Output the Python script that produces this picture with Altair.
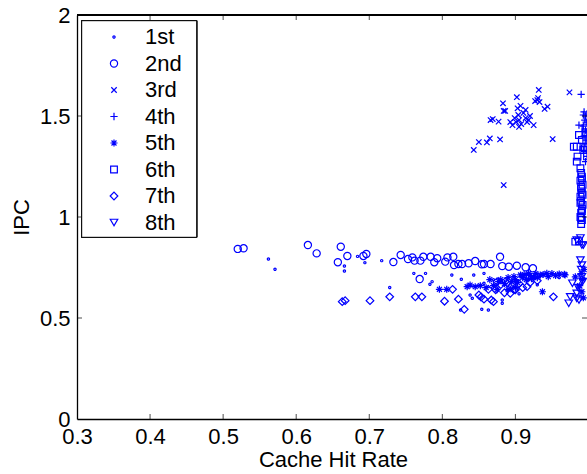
import altair as alt
import pandas as pd

# ---------------- data ----------------
series_names = ["1st", "2nd", "3rd", "4th", "5th", "6th", "7th", "8th"]

x1 = [0.562, 0.571, 0.666, 0.666, 0.684, 0.694, 0.717, 0.728, 0.761, 0.777, 0.783, 0.786,
      0.813, 0.826, 0.843, 0.857, 0.857, 0.838, 0.841, 0.854, 0.863, 0.882, 0.882, 0.825,
      0.870, 0.895, 0.905, 0.915, 0.930, 0.960, 0.985, 0.990]
y1 = [0.792, 0.741, 0.757, 0.733, 0.805, 0.774, 0.784, 0.651, 0.721, 0.721, 0.667, 0.680,
      0.713, 0.692, 0.713, 0.721, 0.672, 0.614, 0.598, 0.543, 0.540, 0.589, 0.573, 0.540,
      0.690, 0.655, 0.620, 0.690, 0.665, 0.700, 0.650, 0.700]

x2 = [0.520, 0.528, 0.616, 0.628, 0.661, 0.670, 0.657, 0.692, 0.696, 0.733, 0.743, 0.753,
      0.759, 0.762, 0.770, 0.774, 0.784, 0.789, 0.793, 0.804, 0.807, 0.815, 0.816, 0.822,
      0.827, 0.836, 0.845, 0.854, 0.857, 0.866, 0.879, 0.882, 0.891, 0.902, 0.914, 0.924,
      0.769]
y2 = [0.842, 0.845, 0.861, 0.820, 0.853, 0.807, 0.776, 0.807, 0.817, 0.777, 0.812, 0.792,
      0.800, 0.784, 0.784, 0.803, 0.803, 0.776, 0.796, 0.779, 0.800, 0.803, 0.762, 0.767,
      0.767, 0.771, 0.782, 0.766, 0.767, 0.767, 0.803, 0.757, 0.754, 0.759, 0.751, 0.746,
      0.693]

x3 = [0.843, 0.850, 0.861, 0.865, 0.879, 0.866, 0.869, 0.877, 0.883, 0.884, 0.886, 0.902,
      0.903, 0.907, 0.893, 0.896, 0.899, 0.901, 0.904, 0.905, 0.908, 0.911, 0.914, 0.914,
      0.916, 0.918, 0.920, 0.925, 0.905, 0.932, 0.927, 0.930, 0.933, 0.931, 0.940, 0.944,
      0.951, 0.974, 0.884]
y3 = [1.332, 1.371, 1.369, 1.389, 1.384, 1.480, 1.485, 1.472, 1.563, 1.525, 1.525, 1.593,
      1.538, 1.550, 1.470, 1.455, 1.490, 1.470, 1.505, 1.480, 1.460, 1.515, 1.530, 1.490,
      1.470, 1.480, 1.500, 1.455, 1.446, 1.629, 1.574, 1.579, 1.569, 1.589, 1.535, 1.546,
      1.386, 1.617, 1.158]

x4 = [0.990, 0.987, 0.994, 0.996, 0.995, 0.997, 0.993, 0.996, 0.998, 0.994, 0.997, 0.995,
      0.998, 0.996, 0.993, 0.997, 0.993]
y4 = [1.607, 1.455, 1.520, 1.500, 1.480, 1.470, 1.450, 1.430, 1.510, 1.400, 1.380, 1.350,
      1.300, 1.274, 1.330, 1.420, 1.505]

x5 = [0.796, 0.806, 0.834, 0.838, 0.845, 0.877, 0.907, 0.918, 0.925, 0.934, 0.943, 0.937,
      0.967, 0.982, 0.968, 0.880, 0.885, 0.890, 0.895, 0.900, 0.898, 0.903, 0.910, 0.912,
      0.915, 0.920, 0.922, 0.928, 0.930, 0.938, 0.945, 0.950, 0.955, 0.960, 0.870, 0.860,
      0.852, 0.865, 0.875, 0.890, 0.900, 0.990, 0.992, 0.988, 0.994, 0.991, 0.993]
y5 = [0.642, 0.642, 0.655, 0.663, 0.655, 0.680, 0.713, 0.721, 0.704, 0.713, 0.721, 0.630,
      0.716, 0.704, 0.713, 0.690, 0.670, 0.700, 0.680, 0.690, 0.705, 0.675, 0.700, 0.715,
      0.690, 0.710, 0.695, 0.720, 0.700, 0.715, 0.705, 0.720, 0.710, 0.718, 0.660, 0.650,
      0.660, 0.690, 0.640, 0.640, 0.650, 0.720, 0.690, 0.660, 0.740, 0.630, 0.600]

x6 = [0.987, 0.980, 0.984, 0.985, 0.984, 0.989, 0.991, 0.993, 0.990, 0.991, 0.989, 0.992,
      0.990, 0.991, 0.989, 0.990, 0.992, 0.991, 0.990, 0.989, 0.991, 0.990, 0.982, 0.987,
      0.996, 0.997, 0.995, 0.998, 0.996, 0.991, 0.990, 0.992, 0.989, 0.991, 0.990]
y6 = [1.406, 1.348, 1.348, 1.299, 1.274, 1.241, 1.381, 1.332, 1.218, 1.200, 1.180, 1.160,
      1.140, 1.120, 1.100, 1.080, 1.060, 1.040, 1.020, 1.000, 0.985, 0.965, 0.878, 0.880,
      1.420, 1.380, 1.340, 1.300, 1.440, 1.190, 1.150, 1.110, 1.070, 1.030, 0.995]

x7 = [0.663, 0.667, 0.701, 0.728, 0.763, 0.772, 0.803, 0.814, 0.822, 0.830, 0.850, 0.853,
      0.857, 0.863, 0.867, 0.870, 0.875, 0.886, 0.889, 0.893, 0.898, 0.916, 0.952, 0.880,
      0.895, 0.905, 0.910, 0.920, 0.930, 0.900, 0.885, 0.873]
y7 = [0.581, 0.586, 0.586, 0.605, 0.605, 0.605, 0.583, 0.642, 0.593, 0.543, 0.614, 0.604,
      0.593, 0.642, 0.589, 0.581, 0.680, 0.680, 0.672, 0.622, 0.639, 0.655, 0.605, 0.665,
      0.660, 0.670, 0.650, 0.675, 0.685, 0.640, 0.625, 0.640]

x8 = [0.984, 0.991, 0.989, 0.991, 0.978, 0.984, 0.975, 0.973, 0.987, 0.991, 0.989, 0.993,
      0.984, 0.990, 0.992, 0.986]
y8 = [0.886, 0.861, 0.787, 0.762, 0.672, 0.622, 0.605, 0.573, 0.589, 0.704, 0.896, 0.861,
      0.597, 0.740, 0.680, 0.650]

x_ticks = [0.3, 0.4, 0.5, 0.6, 0.7, 0.8, 0.9, 1.0]
y_ticks = [0, 0.5, 1, 1.5, 2]

# ---------------- build table ----------------
xs_all = [x1, x2, x3, x4, x5, x6, x7, x8]
ys_all = [y1, y2, y3, y4, y5, y6, y7, y8]
rows = []
for name, xs, ys in zip(series_names, xs_all, ys_all):
    for a, b in zip(xs, ys):
        rows.append({"series": name, "hit": a, "ipc": b})
df = pd.DataFrame(rows)

inner_x = pd.DataFrame({"hit": [v for v in x_ticks if 0.3 < v < 1.0]})
inner_y = pd.DataFrame({"ipc": [v for v in y_ticks if 0 < v < 2]})

# ---------------- styling ----------------
W, H = 510, 404
FONT = "Liberation Sans"
BLUE = "#0000ff"
X_DOMAIN = [0.3, 0.998]   # the figure is cut just before x = 1.0
Y_DOMAIN = [0, 2]

shapes = [
    "circle",
    "circle",
    "M-0.7,-0.7L0.7,0.7M-0.7,0.7L0.7,-0.7",
    "M-1,0L1,0M0,-1L0,1",
    "M-1,0L1,0M0,-1L0,1M-0.7,-0.7L0.7,0.7M-0.7,0.7L0.7,-0.7",
    "square",
    "diamond",
    "triangle-down",
]
sizes = [5, 52, 60, 53, 50, 45, 58, 56]

xscale = alt.Scale(domain=X_DOMAIN, nice=False, zero=False)
yscale = alt.Scale(domain=Y_DOMAIN, nice=False, zero=False)

xaxis = alt.Axis(
    title="Cache Hit Rate", values=x_ticks, format="~g", grid=False, ticks=False, tickSize=0,
    labelFont=FONT, labelFontSize=22, labelColor="black", labelPadding=24,
    labelBaseline="alphabetic", labelFlush=False, labelOverlap=False,
    titleFont=FONT, titleFontSize=22, titleFontWeight="normal", titleColor="black",
    titleX=W / 2 + 1, titleY=47, titleBaseline="alphabetic", titleAnchor="middle",
    domainColor="black", domainWidth=1.3,
)
yaxis = alt.Axis(
    title="IPC", values=y_ticks, format="~g", grid=False, ticks=False, tickSize=0,
    labelFont=FONT, labelFontSize=22, labelColor="black", labelPadding=7,
    labelFlush=False, labelOverlap=False,
    titleFont=FONT, titleFontSize=22, titleFontWeight="normal", titleColor="black",
    titleX=-49, titleY=H / 2, titleBaseline="alphabetic", titleAngle=270, titleAnchor="middle",
    domainColor="black", domainWidth=1.3,
)

legend = alt.Legend(
    title=None, orient="none", legendX=5, legendY=6,
    padding=5, cornerRadius=0,
    labelFont=FONT, labelFontSize=22, labelColor="black",
    symbolStrokeColor=BLUE, symbolFillColor="transparent", symbolStrokeWidth=1.2,
    symbolOffset=16, labelOffset=20, rowPadding=4.5,
)

# legend frame (decoration, in pixels of the plot area)
legend_box = alt.Chart(inner_x).mark_rect(fill="white", stroke="black", strokeWidth=1).encode(
    x=alt.value(4.7), x2=alt.value(119.7), y=alt.value(5.7), y2=alt.value(222.3)
)

points = alt.Chart(df).mark_point(filled=False, strokeWidth=1.2, color=BLUE, opacity=1, clip=True).encode(
    x=alt.X("hit:Q", scale=xscale, axis=xaxis),
    y=alt.Y("ipc:Q", scale=yscale, axis=yaxis),
    shape=alt.Shape("series:N", scale=alt.Scale(domain=series_names, range=shapes), legend=legend),
    size=alt.Size("series:N", scale=alt.Scale(type="ordinal", domain=series_names, range=sizes), legend=legend),
)

bottom_ticks = alt.Chart(inner_x).mark_tick(orient="vertical", size=5, thickness=1, color="black", clip=True).encode(
    x=alt.X("hit:Q", scale=xscale, axis=xaxis), y=alt.value(H - 2.5)
)
top_ticks = alt.Chart(inner_x).mark_tick(orient="vertical", size=5, thickness=1, color="black", clip=True).encode(
    x=alt.X("hit:Q", scale=xscale, axis=xaxis), y=alt.value(2.5)
)
left_ticks = alt.Chart(inner_y).mark_tick(orient="horizontal", size=5, thickness=1, color="black").encode(
    y=alt.Y("ipc:Q", scale=yscale, axis=yaxis), x=alt.value(2.5)
)
right_ticks = alt.Chart(inner_y).mark_tick(orient="horizontal", size=5, thickness=1, color="black").encode(
    y=alt.Y("ipc:Q", scale=yscale, axis=yaxis), x=alt.value(W - 2.5)
)
top_border = alt.Chart(inner_x).mark_rule(color="black", strokeWidth=1.3).encode(
    x=alt.value(0), x2=alt.value(W), y=alt.value(0)
)

chart = alt.layer(points, bottom_ticks, top_ticks, left_ticks, right_ticks, top_border, legend_box).properties(
    width=W, height=H,
    autosize=alt.AutoSizeParams(type="none"),
    padding={"left": 77, "top": 15, "right": 0, "bottom": 55},
    background="white",
).configure_view(stroke=None)

chart.save("out.html", embed_options={"renderer": "svg", "actions": False})
